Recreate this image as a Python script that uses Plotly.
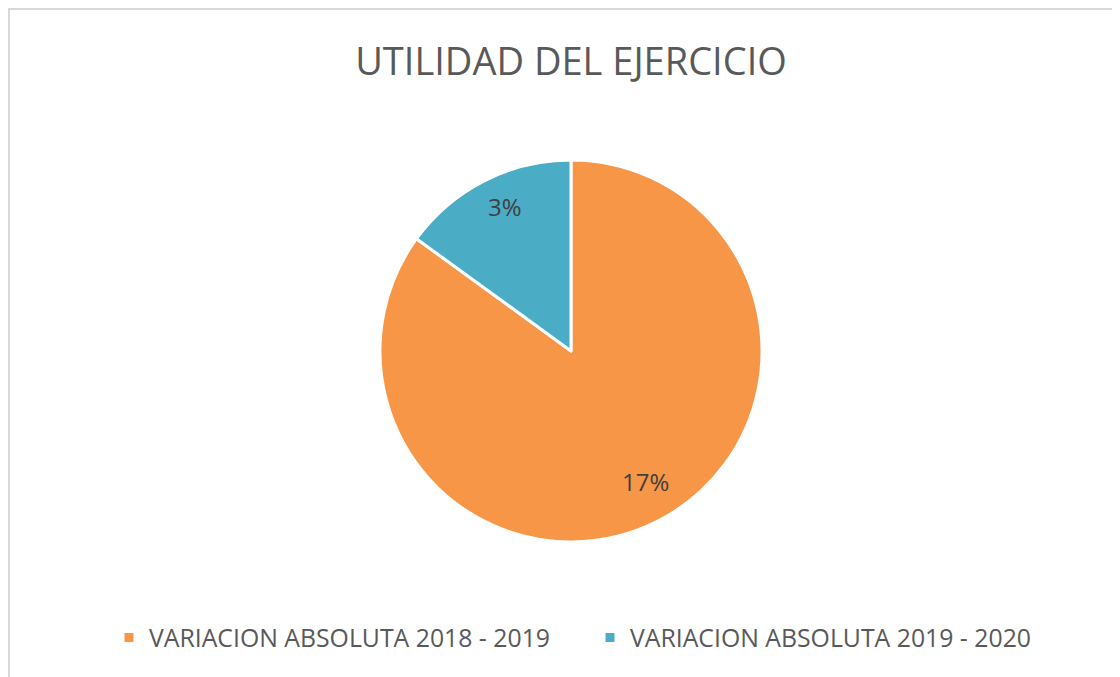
import math
import plotly.graph_objects as go

labels = ["VARIACION ABSOLUTA 2018 - 2019", "VARIACION ABSOLUTA 2019 - 2020"]
values = [17, 3]
text_labels = ["17%", "3%"]
colors = ["#F79646", "#4BACC6"]

W, H = 1120, 677

# pie geometry (px, figure coordinates)
cx, cy, r = 563, 343, 191

fig = go.Figure(go.Pie(
    labels=labels,
    values=values,
    textinfo="none",
    marker=dict(colors=colors, line=dict(color="white", width=3)),
    sort=False,
    direction="clockwise",
    rotation=0,
    domain=dict(x=[(cx - r) / W, (cx + r) / W], y=[1 - (cy + r) / H, 1 - (cy - r) / H]),
))

# data labels placed at the middle angle of each slice
annotations = []
total = sum(values)
start = 0
for v, t in zip(values, text_labels):
    mid = (start + v / 2) / total * 2 * math.pi
    start += v
    px = cx + 0.81 * r * math.sin(mid)
    py = cy - 0.81 * r * math.cos(mid)
    annotations.append(dict(
        x=px / W, y=1 - py / H, xref="paper", yref="paper",
        xanchor="center", yanchor="middle", xshift=4, yshift=7,
        text=t, showarrow=False,
        font=dict(family="Open Sans", size=24, color="#404040"),
    ))

fig.update_layout(
    width=W,
    height=H,
    margin=dict(l=0, r=0, t=0, b=0),
    paper_bgcolor="white",
    title=dict(
        text="UTILIDAD DEL EJERCICIO",
        x=563 / W,
        xanchor="center",
        y=1 - 54 / H,
        yanchor="middle",
        font=dict(family="Open Sans", size=38, color="#595959"),
    ),
    legend=dict(
        orientation="h",
        x=101 / W,
        xanchor="left",
        y=1 - 630 / H,
        yanchor="middle",
        font=dict(family="Open Sans", size=24.8, color="#595959"),
        itemwidth=30,
        entrywidth=436,
        entrywidthmode="pixels",
        traceorder="normal",
    ),
    annotations=annotations,
    shapes=[dict(
        type="rect", xref="paper", yref="paper",
        x0=1 / W, x1=1.02, y0=-0.02, y1=1 - 1 / H,
        line=dict(color="#D9D9D9", width=2),
        fillcolor="rgba(0,0,0,0)",
    )],
)

fig.write_html("out.html")
